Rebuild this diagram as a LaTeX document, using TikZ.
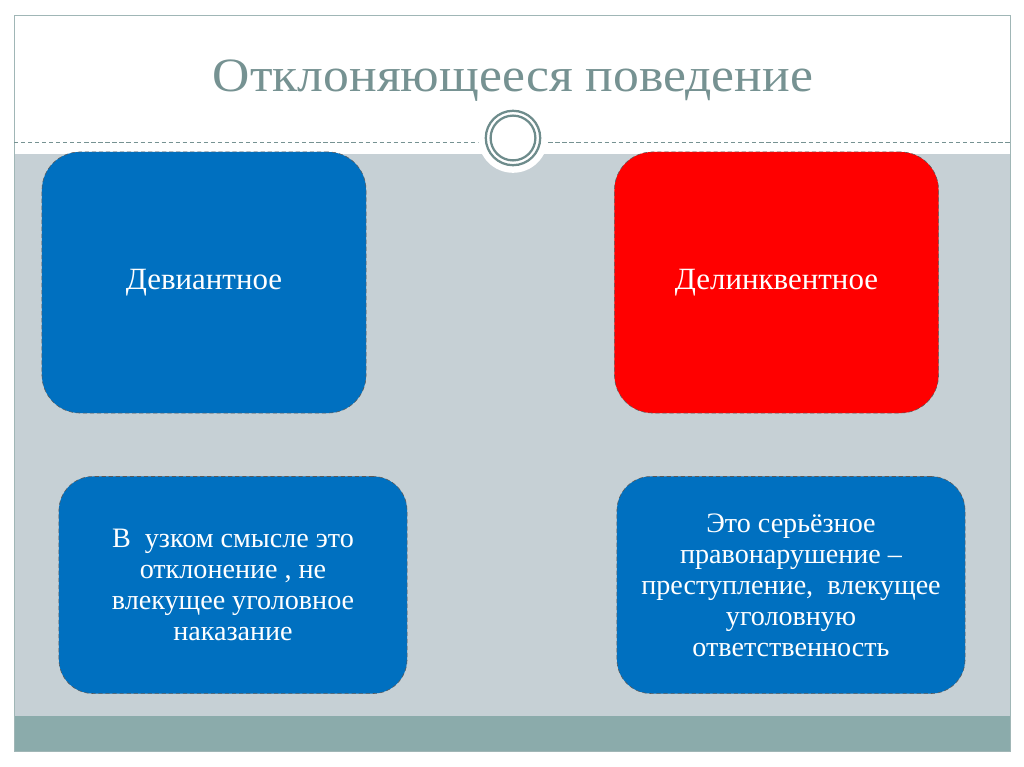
\documentclass[tikz,border=0pt]{standalone}
\usepackage{fontspec}
\setmainfont{Liberation Serif}
\usepackage{tikz}
\definecolor{slidegrey}{RGB}{198,208,213}
\definecolor{bandteal}{RGB}{139,171,171}
\definecolor{framecol}{RGB}{160,182,182}
\definecolor{titlecol}{RGB}{118,146,146}
\definecolor{ringcol}{RGB}{110,140,140}
\definecolor{boxblue}{RGB}{0,112,192}
\definecolor{boxred}{RGB}{255,0,0}

\begin{document}
\begin{tikzpicture}[x=0.025cm,y=-0.025cm,
    termbox/.style={draw=black!65,densely dashed,line width=0.4pt,rounded corners=0.95cm,
      minimum width=8.1cm,minimum height=6.525cm,text=white,
      font=\fontsize{22}{26}\selectfont},
    notebox/.style={draw=black!65,densely dashed,line width=0.4pt,rounded corners=0.85cm,
      fill=boxblue,minimum width=8.7cm,minimum height=5.425cm,text=white,align=center,
      font=\fontsize{20}{22}\selectfont}]
    \useasboundingbox (0,0) rectangle (1024,767);
    \fill[white] (0,0) rectangle (1024,767);
    \fill[slidegrey] (14,154) rectangle (1010,716);
    \fill[bandteal] (14,716) rectangle (1010,751);
    \draw[framecol,line width=0.6pt] (14,15) rectangle (1010,751);
    \draw[titlecol,densely dashed,line width=0.4pt] (14,142) -- (1010,142);
    \fill[white] (513,138) circle[radius=0.87cm];
    \draw[ringcol,line width=1.6pt] (513,138) circle[radius=0.68cm];
    \draw[ringcol,line width=1.6pt] (513,138) circle[radius=0.56cm];

    \node[anchor=base,text=titlecol,font=\fontsize{34}{36}\selectfont\addfontfeature{FakeStretch=1.08}] (title) at (513,92) {Отклоняющееся поведение};

    \node[termbox,fill=boxblue] (dev) at (204,282.5) {Девиантное};
    \node[termbox,fill=boxred] (del) at (776.5,282.5) {Делинквентное};
    \node[notebox] (narrow) at (233,585) {В\ \ узком смысле это\\отклонение , не\\влекущее уголовное\\наказание};
    \node[notebox] (serious) at (791,585) {Это серьёзное\\правонарушение –\\преступление,\ \ влекущее\\уголовную\\ответственность};
  \end{tikzpicture}
\end{document}
